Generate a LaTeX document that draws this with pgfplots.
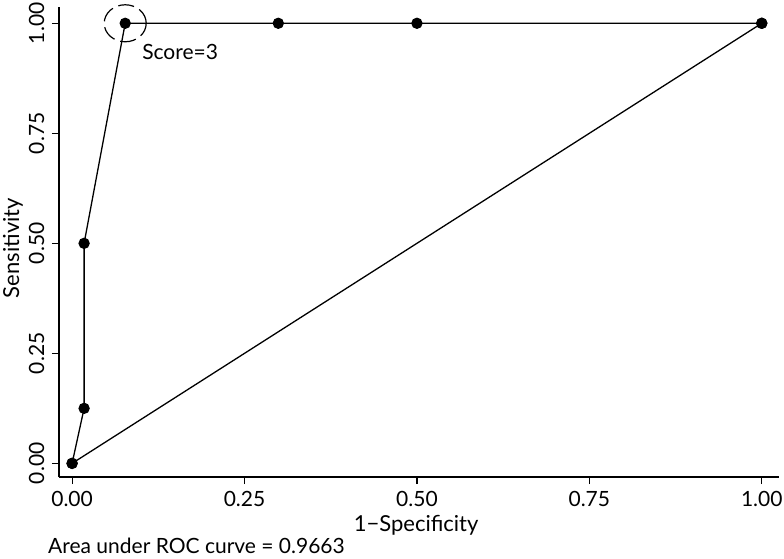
\documentclass[border=0pt]{standalone}
\usepackage{pgfplots}
\pgfplotsset{compat=1.18}
\usepackage{fontspec}
\setmainfont{Lato}
\begin{document}
\begin{tikzpicture}
\begin{axis}[
  name=main,
  scale only axis,
  width=720pt, height=470pt,
  xmin=-0.019, xmax=1.025,
  ymin=-0.031, ymax=1.037,
  axis x line*=bottom, axis y line*=left,
  axis line style={line width=1.4pt, -},
  xtick={0,0.25,0.5,0.75,1}, ytick={0,0.25,0.5,0.75,1},
  xticklabels={0.00,0.25,0.50,0.75,1.00},
  yticklabels={0.00,0.25,0.50,0.75,1.00},
  tick align=outside, major tick length=7pt,
  tick style={line width=1.2pt, black},
  ticklabel style={font=\fontsize{21}{23}\selectfont},
  yticklabel style={xshift=-7.5pt, rotate=90, anchor=south, inner sep=0pt},
  xticklabel style={anchor=north, inner sep=0pt, yshift=-7.5pt},
  xlabel={1\textminus Specificity},
  ylabel={Sensitivity},
  label style={font=\fontsize{22}{24}\selectfont},
  xlabel style={at={(axis description cs:0.496,-0.115)}, anchor=base, inner sep=0pt},
  ylabel style={at={(axis description cs:-0.0639,0.487)}, anchor=center, inner sep=0pt},
  clip=false,
]
\addplot[black, line width=1.3pt, mark=*, mark size=5pt] coordinates {
  (0,0) (0.0174,0.125) (0.0174,0.5) (0.077,1) (0.299,1) (0.5,1) (1,1)
};
\addplot[black, line width=1.3pt, mark=*, mark size=5pt] coordinates {
  (0,0) (1,1)
};
\draw[black, line width=1.2pt, dash pattern=on 16pt off 6pt] (axis cs:0.077,1) ellipse [x radius=21pt, y radius=18.5pt];
\node[anchor=base west, inner sep=0pt, font=\fontsize{21}{23}\selectfont] at (axis cs:0.1015,0.918) {Score=3};
\end{axis}
\node[anchor=base west, inner sep=0pt, font=\fontsize{21}{23}\selectfont] at ([xshift=-11pt, yshift=-76pt]main.south west) {Area under ROC curve = 0.9663};
\pgfresetboundingbox
\useasboundingbox ([xshift=-59pt, yshift=-81pt]main.south west) rectangle ([xshift=5pt, yshift=7pt]main.north east);
\end{tikzpicture}
\end{document}
